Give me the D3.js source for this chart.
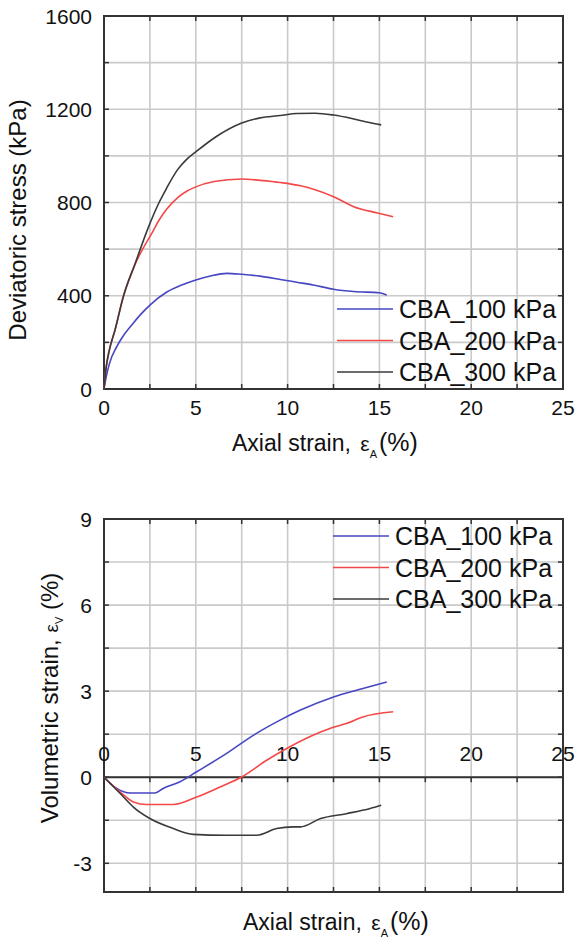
<!DOCTYPE html>
<meta charset="utf-8">
<style>
body { margin: 0; background: #fff; }
text { font-family: Arial, "Liberation Sans", sans-serif; fill: #111; }
.grid line { stroke: #cacaca; stroke-width: 1.6px; }
.frame { fill: none; stroke: #333; stroke-width: 2px; }
.tick { stroke: #333; stroke-width: 1.5px; }
.curve { fill: none; stroke-width: 1.6px; }
</style>
<svg width="575" height="942"></svg>
<script src="https://d3js.org/d3.v7.min.js"></script>
<script>

// series names and colours
var series_names = ["CBA_100 kPa", "CBA_200 kPa", "CBA_300 kPa"];
var series_colours = ["#4646c3", "#f44848", "#3a3a3a"];

// deviatoric stress (kPa) against axial strain (%)
var dev_100 = [[0,0],[0.1,45],[0.3,110],[0.69,181],[1.0,222],[1.6,283],[2.0,320],[2.5,360],[3.4,415],[4.2,445],[5,468],[5.8,485],[6.7,496],[7.5,492],[8.5,484],[9.6,470],[10.5,458],[11.4,446],[12.5,428],[13.6,418],[15,413],[15.4,403]];
var dev_200 = [[0,0],[0.1,82],[0.3,170],[0.6,253],[1.05,396],[1.7,535],[2.7,682],[3.0,725],[3.4,770],[4.0,820],[4.5,848],[5,867],[6,890],[7.5,901],[8.5,895],[9.6,886],[10.7,872],[11.5,855],[12.5,825],[13.6,782],[14.9,755],[15.75,739]];
var dev_300 = [[0,0],[0.1,82],[0.3,170],[0.6,253],[1.05,396],[1.7,539],[2.4,690],[3.0,800],[3.4,860],[4.0,940],[4.5,985],[5,1017],[6.1,1082],[7.5,1141],[8.5,1163],[9.6,1173],[10.5,1182],[11.5,1183],[12.5,1175],[13.5,1160],[14.3,1145],[15.1,1133]];

// volumetric strain (%) against axial strain (%)
var vol_100 = [[0,0],[0.69,-0.39],[1.42,-0.55],[2.78,-0.55],[3.22,-0.39],[4.14,-0.16],[5.05,0.19],[6.68,0.83],[8.13,1.46],[9.59,1.99],[10.7,2.34],[12.5,2.8],[14.1,3.09],[15.4,3.32]];
var vol_200 = [[0,0],[0.87,-0.51],[1.6,-0.86],[2.32,-0.95],[3.78,-0.95],[5.05,-0.69],[6.32,-0.34],[7.5,0.01],[8.86,0.59],[9.95,1.0],[11.2,1.41],[12.3,1.7],[13.2,1.87],[14.1,2.1],[15.75,2.28]];
var vol_300 = [[0,0],[0.87,-0.56],[1.6,-1.04],[2.5,-1.44],[3.78,-1.79],[4.86,-1.99],[6.68,-2.02],[8.32,-2.02],[9.4,-1.79],[10.3,-1.73],[10.7,-1.73],[11.8,-1.44],[13.2,-1.27],[14.5,-1.09],[15.1,-0.98]];

// ticks and grid
var x_grid = [0,2.5,5,7.5,10,12.5,15,17.5,20,22.5,25];
var x_labels = [0,5,10,15,20,25];
var dev_grid = [0,200,400,600,800,1000,1200,1400,1600];
var dev_labels = [0,400,800,1200,1600];
var vol_grid = [-3,-1.5,0,1.5,3,4.5,6,7.5,9];
var vol_labels = [-3,0,3,6,9];

var svg = d3.select("svg");
var left = 104, right = 563;
var tick_len = 5;

function drawPanel(top, bottom, yDomain, yGrid, yLabels, data, legendX, legendY, zeroAxis) {
  var x = d3.scaleLinear().domain([0, 25]).range([left, right]);
  var y = d3.scaleLinear().domain(yDomain).range([bottom, top]);
  var g = svg.append("g");

  var grid = g.append("g").attr("class", "grid");
  grid.selectAll(".gx").data(x_grid.slice(1, -1)).enter().append("line")
      .attr("x1", x).attr("x2", x).attr("y1", top).attr("y2", bottom);
  grid.selectAll(".gy").data(yGrid.filter(function(d) { return d > yDomain[0] && d < yDomain[1]; }))
      .enter().append("line")
      .attr("x1", left).attr("x2", right).attr("y1", y).attr("y2", y);

  // inward ticks on the frame
  x_grid.forEach(function(d) {
    g.append("line").attr("class", "tick").attr("x1", x(d)).attr("x2", x(d)).attr("y1", top).attr("y2", top + tick_len);
    g.append("line").attr("class", "tick").attr("x1", x(d)).attr("x2", x(d)).attr("y1", bottom).attr("y2", bottom - tick_len);
  });
  yGrid.forEach(function(d) {
    g.append("line").attr("class", "tick").attr("x1", left).attr("x2", left + tick_len).attr("y1", y(d)).attr("y2", y(d));
    g.append("line").attr("class", "tick").attr("x1", right).attr("x2", right - tick_len).attr("y1", y(d)).attr("y2", y(d));
  });

  g.append("rect").attr("class", "frame")
      .attr("x", left).attr("y", top).attr("width", right - left).attr("height", bottom - top);

  var axisY = zeroAxis ? y(0) : bottom;
  if (zeroAxis) {
    g.append("line").attr("x1", left).attr("x2", right).attr("y1", axisY).attr("y2", axisY)
        .style("stroke", "#333").style("stroke-width", 2);
    x_grid.forEach(function(d) {
      g.append("line").attr("class", "tick").attr("x1", x(d)).attr("x2", x(d)).attr("y1", axisY).attr("y2", axisY + tick_len);
    });
  }

  g.selectAll(".xl").data(x_labels).enter().append("text")
      .attr("x", x)
      .attr("y", zeroAxis ? axisY - 16 : axisY + 26)
      .attr("text-anchor", "middle")
      .style("font-size", "21px")
      .text(function(d) { return d; });

  g.selectAll(".yl").data(yLabels).enter().append("text")
      .attr("x", 92)
      .attr("y", y)
      .attr("dy", "0.36em")
      .attr("text-anchor", "end")
      .style("font-size", "21px")
      .text(function(d) { return d; });

  var line = d3.line()
      .x(function(d) { return x(d[0]); })
      .y(function(d) { return y(d[1]); })
      .curve(d3.curveMonotoneX);

  data.forEach(function(s, i) {
    g.append("path").attr("class", "curve")
        .attr("d", line(s))
        .style("stroke", series_colours[i]);
  });

  // legend
  series_names.forEach(function(name, i) {
    var ly = legendY + i * 31.5;
    g.append("line")
        .attr("x1", legendX).attr("x2", legendX + 56)
        .attr("y1", ly).attr("y2", ly)
        .style("stroke", series_colours[i]).style("stroke-width", 1.6);
    g.append("text")
        .attr("x", legendX + 62).attr("y", ly)
        .attr("dy", "0.36em")
        .style("font-size", "25px")
        .text(name);
  });

  return { x: x, y: y };
}

function axialTitle(x0, by) {
  var t = svg.append("text")
      .attr("x", x0).attr("y", by)
      .style("font-size", "23px");
  t.append("tspan").text("Axial strain, ");
  t.append("tspan").attr("dx", 3).style("font-size", "21px").text("ε");
  t.append("tspan").style("font-size", "11px").attr("dy", 7).text("A");
  t.append("tspan").attr("dy", -7).attr("dx", 2).style("font-size", "25px").text("(%)");
}

// top panel
drawPanel(16, 389, [0, 1600], dev_grid, dev_labels, [dev_100, dev_200, dev_300], 337, 309, false);
axialTitle(232, 451);

svg.append("text")
    .attr("transform", "translate(26,220) rotate(-90)")
    .attr("text-anchor", "middle")
    .style("font-size", "24px")
    .text("Deviatoric stress (kPa)");

// bottom panel
drawPanel(519, 892, [-4, 9], vol_grid, vol_labels, [vol_100, vol_200, vol_300], 333, 536, true);
axialTitle(243, 930);

var vt = svg.append("text")
    .attr("transform", "translate(58,698) rotate(-90)")
    .attr("text-anchor", "middle")
    .style("font-size", "24px");
vt.append("tspan").text("Volumetric strain, ");
vt.append("tspan").style("font-size", "19px").text("ε");
vt.append("tspan").style("font-size", "11px").attr("dy", 5).text("V");
vt.append("tspan").attr("dy", -5).text(" (%)");

</script>
